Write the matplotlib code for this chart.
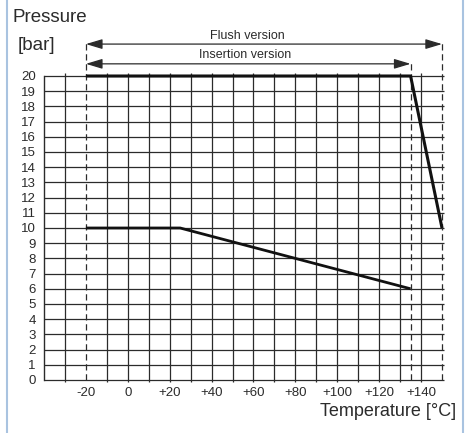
import matplotlib
matplotlib.use('Agg')
import matplotlib.pyplot as plt
from matplotlib.lines import Line2D

plt.rcParams['font.family'] = ['Liberation Sans', 'DejaVu Sans']

# data
upper_temp = [-20, 135, 150]
upper_pres = [20, 20, 10]
lower_temp = [-20, 25, 135]
lower_pres = [10, 10, 6]

x_grid = [-30, -10, 0, 10, 20, 30, 40, 50, 60, 70, 80, 90, 100, 110, 120, 130, 140]
x_labels = [-20, 0, 20, 40, 60, 80, 100, 120, 140]
y_ticks = list(range(0, 21))
limits = [-20, 135, 150]

flush_range = (-20, 150)
insertion_range = (-20, 135)

ink = '#2b2b2b'

fig = plt.figure(figsize=(4.74, 4.33), dpi=100)
ax = fig.add_axes([44 / 474, 1 - 380 / 433, 398 / 474, 304 / 433])
ax.set_xlim(-40, 150)
ax.set_ylim(0, 20)
for s in ['top', 'right', 'bottom']:
    ax.spines[s].set_visible(False)
ax.spines['left'].set_color(ink)
ax.spines['left'].set_linewidth(1)

# grid
ax.vlines(x_grid, -0.15, 20.22, color=ink, lw=0.9, clip_on=False, zorder=1)
ax.hlines(y_ticks, -40, 150.8, color=ink, lw=0.9, clip_on=False, zorder=1)

# limit lines (dashed)
tops = {-20: 22.3, 135: 21.0, 150: 22.3}
for t in limits:
    ax.vlines(t, 0, tops[t], color=ink, lw=0.9, linestyles=(0, (5, 3)),
              clip_on=False, zorder=2)

ax.plot(upper_temp, upper_pres, color='#111111', lw=2.2, solid_capstyle='butt',
        clip_on=False, zorder=3)
ax.plot(lower_temp, lower_pres, color='#111111', lw=2.0, solid_capstyle='butt',
        clip_on=False, zorder=3)

# range arrows
for (a, b), y, label, tx in [(flush_range, 22.1, 'Flush version', 57),
                             (insertion_range, 20.8, 'Insertion version', 56)]:
    ax.annotate('', xy=(b, y), xytext=(a, y), annotation_clip=False,
                arrowprops=dict(arrowstyle='<|-|>,head_length=1.0,head_width=0.3',
                                color=ink, lw=0.9, shrinkA=0, shrinkB=0))
    ax.text(tx, y + 0.55, label, ha='center', va='center', fontsize=9, color=ink)

ax.set_xticks(x_labels)
ax.set_xticklabels(['%+d' % v if v != 0 else '0' for v in x_labels])
ax.set_yticks(y_ticks)
ax.tick_params(axis='both', length=0, labelsize=9.5, colors=ink)
ax.tick_params(axis='x', pad=5)
ax.tick_params(axis='y', pad=6)

fig.text(13 / 474, 1 - 17 / 433, 'Pressure', fontsize=13.5, color=ink, va='center')
fig.text(18 / 474, 1 - 45 / 433, '[bar]', fontsize=13.5, color=ink, va='center')
fig.text(456 / 474, 1 - 416 / 433, 'Temperature [°C]', fontsize=13, color=ink,
         va='baseline', ha='right')

# frame lines
for fx in [7 / 474, 463 / 474]:
    fig.add_artist(Line2D([fx, fx], [0, 1], transform=fig.transFigure,
                          color='#a9c3e0', lw=1.5))

fig.savefig('out.png', dpi=100)
